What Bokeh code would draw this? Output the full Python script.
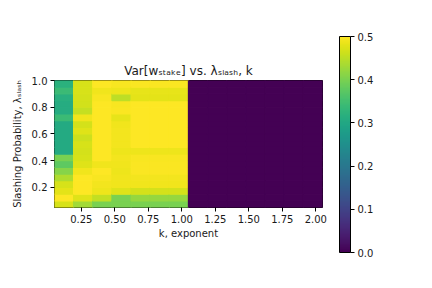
import numpy as np
import pandas as pd
from bokeh.plotting import figure
from bokeh.models import (ColumnDataSource, FixedTicker, LinearColorMapper, ColorBar,
                          NumeralTickFormatter, Range1d)
from bokeh.palettes import Viridis256
from bokeh.transform import linear_cmap
from bokeh.embed import file_html
from bokeh.resources import INLINE

# ---------------- data ----------------
# k exponent (cell centres) and slashing probability (cell centres)
K_VALUES = [0.121, 0.264, 0.407, 0.550, 0.693, 0.836, 0.979,
            1.121, 1.264, 1.407, 1.550, 1.693, 1.836, 1.979]
K_STEP = 2.0 / 14
LAMBDA_VALUES = [0.075, 0.125, 0.175, 0.225, 0.275, 0.325, 0.375, 0.425, 0.475, 0.525,
                 0.575, 0.625, 0.675, 0.725, 0.775, 0.825, 0.875, 0.925, 0.975]
LAMBDA_STEP = 0.05

# Var[w_stake] per k column, listed from lambda=0.075 (bottom) to 0.975 (top)
VAR_K01 = [0.47, 0.50, 0.48, 0.47, 0.44, 0.41, 0.375, 0.40, 0.305, 0.305,
           0.305, 0.305, 0.305, 0.34, 0.31, 0.31, 0.315, 0.34, 0.32]
VAR_K02 = [0.43, 0.475, 0.50, 0.50, 0.50, 0.49, 0.475, 0.47, 0.468, 0.47,
           0.462, 0.475, 0.468, 0.49, 0.457, 0.465, 0.468, 0.47, 0.47]
VAR_K03 = [0.40, 0.455, 0.487, 0.492, 0.495, 0.50, 0.49, 0.50, 0.50, 0.50,
           0.50, 0.50, 0.50, 0.50, 0.50, 0.50, 0.495, 0.49, 0.50]
VAR_K04 = [0.40, 0.40, 0.475, 0.49, 0.49, 0.487, 0.49, 0.492, 0.487, 0.492,
           0.492, 0.492, 0.49, 0.482, 0.497, 0.495, 0.45, 0.487, 0.495]
VAR_K05 = [0.40, 0.42, 0.468, 0.49, 0.492, 0.497, 0.497, 0.495, 0.487, 0.50,
           0.50, 0.50, 0.50, 0.50, 0.50, 0.50, 0.48, 0.482, 0.497]
VAR_K06 = [0.40, 0.42, 0.468, 0.49, 0.492, 0.497, 0.497, 0.495, 0.487, 0.50,
           0.50, 0.50, 0.50, 0.50, 0.50, 0.50, 0.48, 0.482, 0.497]
VAR_K07 = [0.40, 0.42, 0.468, 0.49, 0.492, 0.497, 0.497, 0.495, 0.487, 0.50,
           0.50, 0.50, 0.50, 0.50, 0.50, 0.50, 0.48, 0.482, 0.497]
VAR_ZERO = [0.0] * 19  # k > 1.05: variance vanishes
VAR_COLUMNS = [VAR_K01, VAR_K02, VAR_K03, VAR_K04, VAR_K05, VAR_K06, VAR_K07,
               VAR_ZERO, VAR_ZERO, VAR_ZERO, VAR_ZERO, VAR_ZERO, VAR_ZERO, VAR_ZERO]

X_TICKS = [0.25, 0.50, 0.75, 1.00, 1.25, 1.50, 1.75, 2.00]
Y_TICKS = [0.2, 0.4, 0.6, 0.8, 1.0]
CB_TICKS = [0.0, 0.1, 0.2, 0.3, 0.4, 0.5]
V_LOW, V_HIGH = 0.0, 0.5

TITLE = "Var[wₛₜₐₖₑ] vs. λₛₗₐₛₕ, k"
XLABEL = "k, exponent"
YLABEL = "Slashing Probability, λₛₗₐₛₕ"

# ---------------- table ----------------
rows = []
for k, col in zip(K_VALUES, VAR_COLUMNS):
    for lam, v in zip(LAMBDA_VALUES, col):
        rows.append(dict(k=k, lam=lam, var=v,
                         left=k - K_STEP / 2, right=k + K_STEP / 2,
                         bottom=lam - LAMBDA_STEP / 2, top=lam + LAMBDA_STEP / 2))
df = pd.DataFrame(rows)
src = ColumnDataSource(df)

X0, X1 = 0.05, 2.05
Y0, Y1 = 0.05, 1.0

FONT = "DejaVu Sans"
TXT = "#1a1a1a"

p = figure(frame_width=268, frame_height=127, min_border_left=54, min_border_top=80,
           min_border_right=0, min_border_bottom=56,
           x_range=Range1d(X0, X1), y_range=Range1d(Y0, Y1),
           output_backend="svg", toolbar_location=None, title=TITLE)
mapper = LinearColorMapper(palette=Viridis256, low=V_LOW, high=V_HIGH)
cmap = linear_cmap("var", Viridis256, V_LOW, V_HIGH)
p.quad(left="left", right="right", bottom="bottom", top="top", source=src,
       fill_color=cmap, line_color=cmap, line_width=1.2)

p.title.align = "center"
p.title.text_font = FONT
p.title.text_font_size = "12px"
p.title.text_font_style = "normal"
p.title.text_color = TXT
p.title.standoff = 6

p.grid.visible = False
p.outline_line_color = "black"
p.outline_line_width = 1
p.outline_line_alpha = 1
for ax in (p.xaxis[0], p.yaxis[0]):
    ax.axis_line_color = None
    ax.major_tick_in = 0
    ax.major_tick_out = 4
    ax.minor_tick_line_color = None
    ax.major_tick_line_color = "black"
    ax.major_label_text_font = FONT
    ax.major_label_text_font_size = "10px"
    ax.major_label_text_color = TXT
    ax.major_label_standoff = 3
    ax.axis_label_text_font = FONT
    ax.axis_label_text_font_size = "10px"
    ax.axis_label_text_font_style = "normal"
    ax.axis_label_text_color = TXT
p.xaxis.ticker = FixedTicker(ticks=X_TICKS)
p.xaxis.formatter = NumeralTickFormatter(format="0.00")
p.yaxis.ticker = FixedTicker(ticks=Y_TICKS)
p.yaxis.formatter = NumeralTickFormatter(format="0.0")
p.xaxis.axis_label = XLABEL
p.xaxis.axis_label_standoff = 2
p.yaxis.axis_label = YLABEL
p.yaxis.axis_label_standoff = 6

cbar = ColorBar(color_mapper=mapper, width=11, height=216, location="center",
                padding=17, margin=0,
                ticker=FixedTicker(ticks=CB_TICKS),
                formatter=NumeralTickFormatter(format="0.0"),
                major_tick_in=0, major_tick_out=4, major_tick_line_color="black",
                minor_tick_line_color=None,
                major_label_text_font=FONT, major_label_text_font_size="10px",
                major_label_text_color=TXT, label_standoff=3,
                bar_line_color="black", bar_line_width=1,
                background_fill_color=None, border_line_color=None)
p.add_layout(cbar, "right")

open("out.html", "w").write(file_html(p, INLINE))
